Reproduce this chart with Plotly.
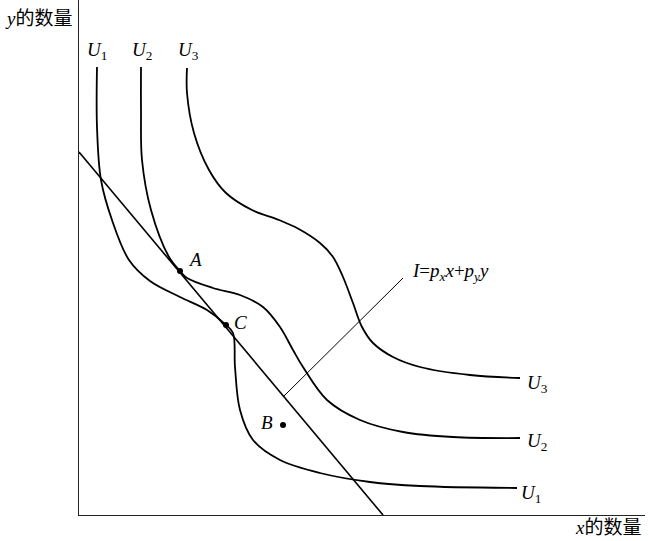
import plotly.graph_objects as go

# Indifference curves (coordinates in chart units; origin at axes corner)
u1_x = [18, 18, 22, 33, 50, 71, 101, 128, 147, 154, 156, 161, 174, 201, 241, 291, 341, 438]
u1_y = [448, 388, 335, 295, 255, 234, 218, 205, 190, 182, 148, 105, 75, 55, 42, 33, 29, 27]

u2_x = [62, 62, 63, 72, 90, 101, 108, 134, 161, 184, 201, 214, 224, 248, 281, 324, 374, 441]
u2_y = [448, 405, 355, 305, 258, 244, 237, 227, 220, 208, 188, 165, 148, 115, 95, 83, 78, 77]

u3_x = [108, 108, 115, 130, 147, 173, 200, 218, 241, 254, 264, 274, 283, 294, 314, 341, 391, 441]
u3_y = [447, 422, 382, 345, 322, 305, 295, 287, 272, 258, 238, 212, 188, 172, 158, 148, 140, 137]

# Budget line
budget_x = [0, 304]
budget_y = [363, 0]

# Pointer line for the budget-line label
pointer_x = [205, 324]
pointer_y = [119, 237]

# Points
pt_names = ["A", "C", "B"]
pt_x = [101, 147, 204]
pt_y = [244, 190, 90]

SERIF = "Liberation Serif, Times New Roman, serif"
CJK = "Liberation Serif, Noto Sans CJK SC, serif"

fig = go.Figure()
for xs, ys in [(u1_x, u1_y), (u2_x, u2_y), (u3_x, u3_y)]:
    fig.add_trace(go.Scatter(x=xs, y=ys, mode="lines",
                             line=dict(color="black", width=1.8, shape="spline", smoothing=1.0),
                             hoverinfo="skip", showlegend=False))
fig.add_trace(go.Scatter(x=budget_x, y=budget_y, mode="lines",
                         line=dict(color="black", width=1.6), showlegend=False))
fig.add_trace(go.Scatter(x=pointer_x, y=pointer_y, mode="lines",
                         line=dict(color="black", width=1), showlegend=False))
fig.add_trace(go.Scatter(x=pt_x, y=pt_y, mode="markers",
                         marker=dict(color="black", size=6), showlegend=False))

ann = []
def add(text, x, y, size=19, font=SERIF, xanchor="center", ref="x"):
    ann.append(dict(text=text, x=x, y=y, xref=ref, yref=("y" if ref == "x" else "paper"),
                    showarrow=False,
                    font=dict(family=font, size=size, color="black"),
                    xanchor=xanchor, yanchor="middle"))

# top labels for curves
add("<i>U</i><sub>1</sub>", 18, 464)
add("<i>U</i><sub>2</sub>", 63, 464)
add("<i>U</i><sub>3</sub>", 109, 464)
# right labels
add("<i>U</i><sub>3</sub>", 446, 131, xanchor="left")
add("<i>U</i><sub>2</sub>", 446, 73, xanchor="left")
add("<i>U</i><sub>1</sub>", 440, 21, xanchor="left")
# point labels
add("<i>A</i>", 116, 256)
add("<i>C</i>", 161, 193)
add("<i>B</i>", 188, 93)
# budget label
add("<i>I</i>=<i>p</i><sub><i>x</i></sub><i>x</i>+<i>p</i><sub><i>y</i></sub><i>y</i>", 331, 243, xanchor="left")
# axis titles (paper coordinates)
add("<i>y</i>的数量", -0.0724, 0.965, size=19, font=CJK, ref="paper")
add("<i>x</i>的数量", 0.9346, -0.0252, size=19, font=CJK, ref="paper")

fig.update_layout(
    width=649, height=541,
    margin=dict(l=79, r=4, t=0, b=26),
    paper_bgcolor="white", plot_bgcolor="white",
    annotations=ann,
    xaxis=dict(range=[0, 566], showgrid=False, zeroline=False, showticklabels=False,
               ticks="", showline=True, linecolor="#222", linewidth=1.2, fixedrange=True),
    yaxis=dict(range=[0, 515], showgrid=False, zeroline=False, showticklabels=False,
               ticks="", showline=True, linecolor="#222", linewidth=1.2, fixedrange=True),
)
fig.write_html("out.html", config={"displayModeBar": False},
               post_script="document.body.style.margin='0px';")
